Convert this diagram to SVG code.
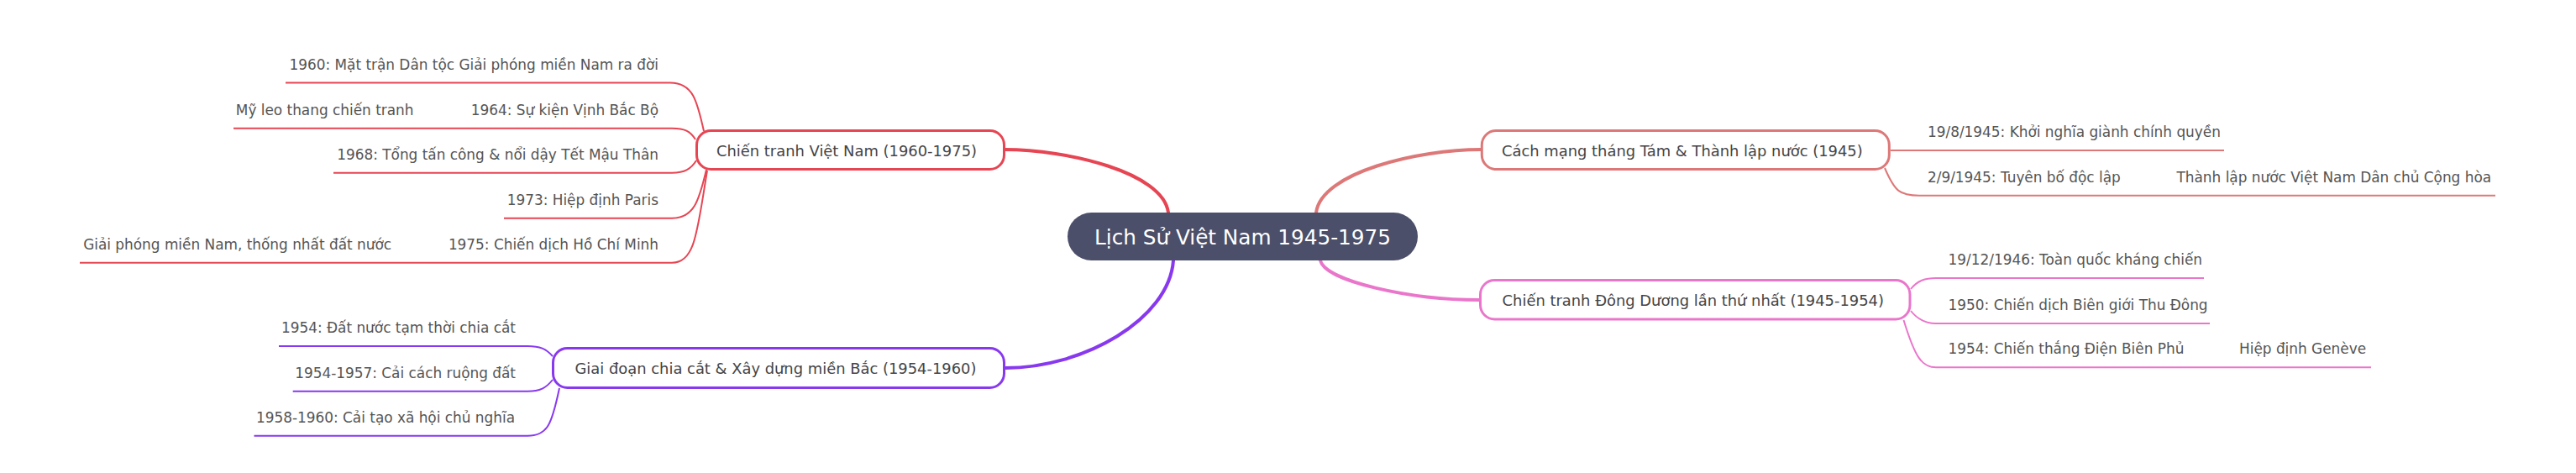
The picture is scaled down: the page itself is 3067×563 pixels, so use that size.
<svg xmlns="http://www.w3.org/2000/svg" width="3067" height="563" viewBox="0 0 3067 563">
<style>
text{font-family:"DejaVu Sans","Noto Sans",sans-serif;}
.root-box{fill:#4c4f69;}
.root-t{fill:#ffffff;font-size:24.7px;text-anchor:middle;}
.main-box{fill:#ffffff;stroke-width:3;}
.main-t{fill:#444446;font-size:17.9px;}
.sub-t{fill:#555555;font-size:16.9px;}
.l{text-anchor:end;}
.main-link{fill:none;stroke-width:4;stroke-linecap:round;}
.sub-link{fill:none;stroke-width:2;}
.c1{stroke:#dd7878;}
.c2{stroke:#ea76cb;}
.c3{stroke:#8839ef;}
.c4{stroke:#e64553;}
</style>
<rect width="3067" height="563" fill="#ffffff"/>
<g id="connectors">
  <path class="main-link c4" d="M1196,178 C1270,178 1385,205 1391,253"/>
  <path class="main-link c1" d="M1763,178 C1689,178 1573,205 1567,253"/>
  <path class="main-link c2" d="M1572,310 C1578,335 1680,357 1761,357"/>
  <path class="main-link c3" d="M1397,310 C1392,380 1290,438 1197,438"/>
  <!-- Chiến tranh Việt Nam children -->
  <path class="sub-link c4" d="M838,156 C830,120 825,98.5 798,98.5 H340"/>
  <path class="sub-link c4" d="M828,166 C822,156 815,152.7 800,152.7 H540"/>
  <path class="sub-link c4" d="M540,152.7 H278"/>
  <path class="sub-link c4" d="M829,191 C823,201 815,205.7 800,205.7 H397"/>
  <path class="sub-link c4" d="M841,202 C832,240 826,259.7 800,259.7 H600"/>
  <path class="sub-link c4" d="M842,203 C830,275 828,312.7 800,312.7 H510"/>
  <path class="sub-link c4" d="M510,312.7 H95"/>
  <!-- Giai đoạn children -->
  <path class="sub-link c3" d="M658,424 C650,415 643,412 628,412 H332"/>
  <path class="sub-link c3" d="M658,452 C650,462 643,465.7 628,465.7 H348.7"/>
  <path class="sub-link c3" d="M666,462 C657,505 652,518.7 628,518.7 H302.5"/>
  <!-- Cách mạng children -->
  <path class="sub-link c1" d="M2251,179 H2648"/>
  <path class="sub-link c1" d="M2244,200 C2256,228 2262,232.7 2285,232.7 H2560"/>
  <path class="sub-link c1" d="M2560,232.7 H2971"/>
  <!-- Đông Dương children -->
  <path class="sub-link c2" d="M2275,344 C2283,334 2292,331 2305,331 H2624"/>
  <path class="sub-link c2" d="M2275,370 C2283,380 2292,385 2305,385 H2631"/>
  <path class="sub-link c2" d="M2266.5,381 C2280,425 2288,437.3 2305,437.3 H2640"/>
  <path class="sub-link c2" d="M2640,437.3 H2823"/>
</g>
<g id="root">
  <rect class="root-box" x="1271" y="253" width="417" height="57" rx="28.5"/>
  <text class="root-t" x="1479.5" y="290.5">Lịch Sử Việt Nam 1945-1975</text>
</g>
<g id="n-cachmang">
  <rect class="main-box c1" x="1764.3" y="155.5" width="485" height="46" rx="17"/>
  <text class="main-t" x="1788" y="185.5">Cách mạng tháng Tám &amp; Thành lập nước (1945)</text>
</g>
<g id="n-cachmang-1"><text class="sub-t" x="2295" y="163">19/8/1945: Khởi nghĩa giành chính quyền</text></g>
<g id="n-cachmang-2"><text class="sub-t" x="2295" y="216.7">2/9/1945: Tuyên bố độc lập</text></g>
<g id="n-cachmang-2-1"><text class="sub-t" x="2591.5" y="216.7">Thành lập nước Việt Nam Dân chủ Cộng hòa</text></g>
<g id="n-dongduong">
  <rect class="main-box c2" x="1762.5" y="333.5" width="511.5" height="46.5" rx="17"/>
  <text class="main-t" x="1788.6" y="363.5">Chiến tranh Đông Dương lần thứ nhất (1945-1954)</text>
</g>
<g id="n-dongduong-1"><text class="sub-t" x="2319.6" y="315">19/12/1946: Toàn quốc kháng chiến</text></g>
<g id="n-dongduong-2"><text class="sub-t" x="2319.6" y="369">1950: Chiến dịch Biên giới Thu Đông</text></g>
<g id="n-dongduong-3"><text class="sub-t" x="2319.6" y="421.3">1954: Chiến thắng Điện Biên Phủ</text></g>
<g id="n-dongduong-3-1"><text class="sub-t" x="2666" y="421.3">Hiệp định Genève</text></g>
<g id="n-giaidoan">
  <rect class="main-box c3" x="658.5" y="414.5" width="537" height="47" rx="17"/>
  <text class="main-t" x="684.5" y="444.5">Giai đoạn chia cắt &amp; Xây dựng miền Bắc (1954-1960)</text>
</g>
<g id="n-giaidoan-1"><text class="sub-t l" x="614" y="396">1954: Đất nước tạm thời chia cắt</text></g>
<g id="n-giaidoan-2"><text class="sub-t l" x="614" y="449.7">1954-1957: Cải cách ruộng đất</text></g>
<g id="n-giaidoan-3"><text class="sub-t l" x="613" y="502.7">1958-1960: Cải tạo xã hội chủ nghĩa</text></g>
<g id="n-vietnam">
  <rect class="main-box c4" x="829.5" y="155.5" width="366" height="46" rx="17"/>
  <text class="main-t" x="853" y="186">Chiến tranh Việt Nam (1960-1975)</text>
</g>
<g id="n-vietnam-1"><text class="sub-t l" x="784" y="82.5">1960: Mặt trận Dân tộc Giải phóng miền Nam ra đời</text></g>
<g id="n-vietnam-2"><text class="sub-t l" x="784" y="136.7">1964: Sự kiện Vịnh Bắc Bộ</text></g>
<g id="n-vietnam-2-1"><text class="sub-t l" x="492.5" y="136.7">Mỹ leo thang chiến tranh</text></g>
<g id="n-vietnam-3"><text class="sub-t l" x="784" y="189.7">1968: Tổng tấn công &amp; nổi dậy Tết Mậu Thân</text></g>
<g id="n-vietnam-4"><text class="sub-t l" x="784" y="243.7">1973: Hiệp định Paris</text></g>
<g id="n-vietnam-5"><text class="sub-t l" x="784" y="296.7">1975: Chiến dịch Hồ Chí Minh</text></g>
<g id="n-vietnam-5-1"><text class="sub-t l" x="466" y="296.7">Giải phóng miền Nam, thống nhất đất nước</text></g>
</svg>
